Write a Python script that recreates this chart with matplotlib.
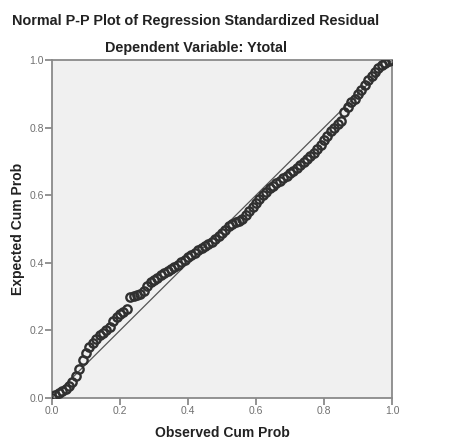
import numpy as np
import matplotlib.pyplot as plt

plt.rcParams['font.family'] = ['Liberation Sans', 'DejaVu Sans']

# observed vs expected cumulative probabilities
observed = [0.00, 0.01, 0.02, 0.03, 0.04, 0.05, 0.06, 0.07, 0.08, 0.09,
            0.10, 0.11, 0.12, 0.13, 0.14, 0.15, 0.16, 0.17, 0.18, 0.19,
            0.20, 0.21, 0.22, 0.23, 0.24, 0.25, 0.26, 0.27, 0.28, 0.29,
            0.30, 0.31, 0.32, 0.33, 0.34, 0.35, 0.36, 0.37, 0.38, 0.39,
            0.40, 0.41, 0.42, 0.43, 0.44, 0.45, 0.46, 0.47, 0.48, 0.49,
            0.50, 0.51, 0.52, 0.53, 0.54, 0.55, 0.56, 0.57, 0.58, 0.59,
            0.60, 0.61, 0.62, 0.63, 0.64, 0.65, 0.66, 0.67, 0.68, 0.69,
            0.70, 0.71, 0.72, 0.73, 0.74, 0.75, 0.76, 0.77, 0.78, 0.79,
            0.80, 0.81, 0.82, 0.83, 0.84, 0.85, 0.86, 0.87, 0.88, 0.89,
            0.90, 0.91, 0.92, 0.93, 0.94, 0.95, 0.96, 0.97, 0.98, 0.99,
            1.00]
expected = [0.000, 0.008, 0.016, 0.022, 0.028, 0.036, 0.048, 0.064, 0.086, 0.113,
            0.133, 0.150, 0.164, 0.175, 0.186, 0.193, 0.201, 0.211, 0.228, 0.240,
            0.248, 0.255, 0.262, 0.298, 0.302, 0.306, 0.309, 0.318, 0.330, 0.342,
            0.350, 0.356, 0.363, 0.370, 0.376, 0.382, 0.388, 0.394, 0.401, 0.408,
            0.416, 0.424, 0.430, 0.437, 0.443, 0.450, 0.456, 0.463, 0.470, 0.478,
            0.487, 0.497, 0.508, 0.515, 0.520, 0.525, 0.530, 0.540, 0.553, 0.564,
            0.576, 0.588, 0.600, 0.610, 0.622, 0.628, 0.636, 0.643, 0.650, 0.658,
            0.665, 0.673, 0.680, 0.688, 0.697, 0.706, 0.715, 0.725, 0.737, 0.750,
            0.762, 0.775, 0.790, 0.800, 0.810, 0.820, 0.846, 0.862, 0.875, 0.886,
            0.898, 0.910, 0.925, 0.940, 0.953, 0.965, 0.975, 0.984, 0.992, 0.997,
            1.000]
ticks = [0.0, 0.2, 0.4, 0.6, 0.8, 1.0]
tick_labels = ['0.0', '0.2', '0.4', '0.6', '0.8', '1.0']

fig = plt.figure(figsize=(4.65, 4.43), dpi=100)
ax = fig.add_axes([52 / 465, 45 / 443, 340 / 465, 338 / 443])
ax.set_facecolor('#f0f0f0')

ax.plot([0, 1], [0, 1], color='#555555', lw=0.9, zorder=2)
ax.plot(observed, expected, 'o', mfc='none', mec='#303030', ms=6, mew=1.7, zorder=3)

ax.set_xlim(0, 1)
ax.set_ylim(0, 1)
ax.set_xticks(ticks)
ax.set_xticklabels(tick_labels)
ax.set_yticks(ticks)
ax.set_yticklabels(tick_labels)
ax.tick_params(direction='out', length=5, width=1.2, color='#808080',
               labelcolor='#707070', labelsize=7.5, pad=1)
for s in ax.spines.values():
    s.set_color('#8a8a8a')
    s.set_linewidth(1.3)

ax.set_xlabel('Observed Cum Prob', fontsize=10, fontweight='bold', color='#222222', labelpad=7)
ax.set_ylabel('Expected Cum Prob', fontsize=10, fontweight='bold', color='#222222', labelpad=3)

fig.text(12 / 465, 1 - 21 / 443, 'Normal P-P Plot of Regression Standardized Residual',
         fontsize=10.4, fontweight='bold', color='#222222', ha='left', va='center')
fig.text(196 / 465, 1 - 48 / 443, 'Dependent Variable: Ytotal',
         fontsize=10.4, fontweight='bold', color='#222222', ha='center', va='center')

fig.savefig('out.png', dpi=100)
